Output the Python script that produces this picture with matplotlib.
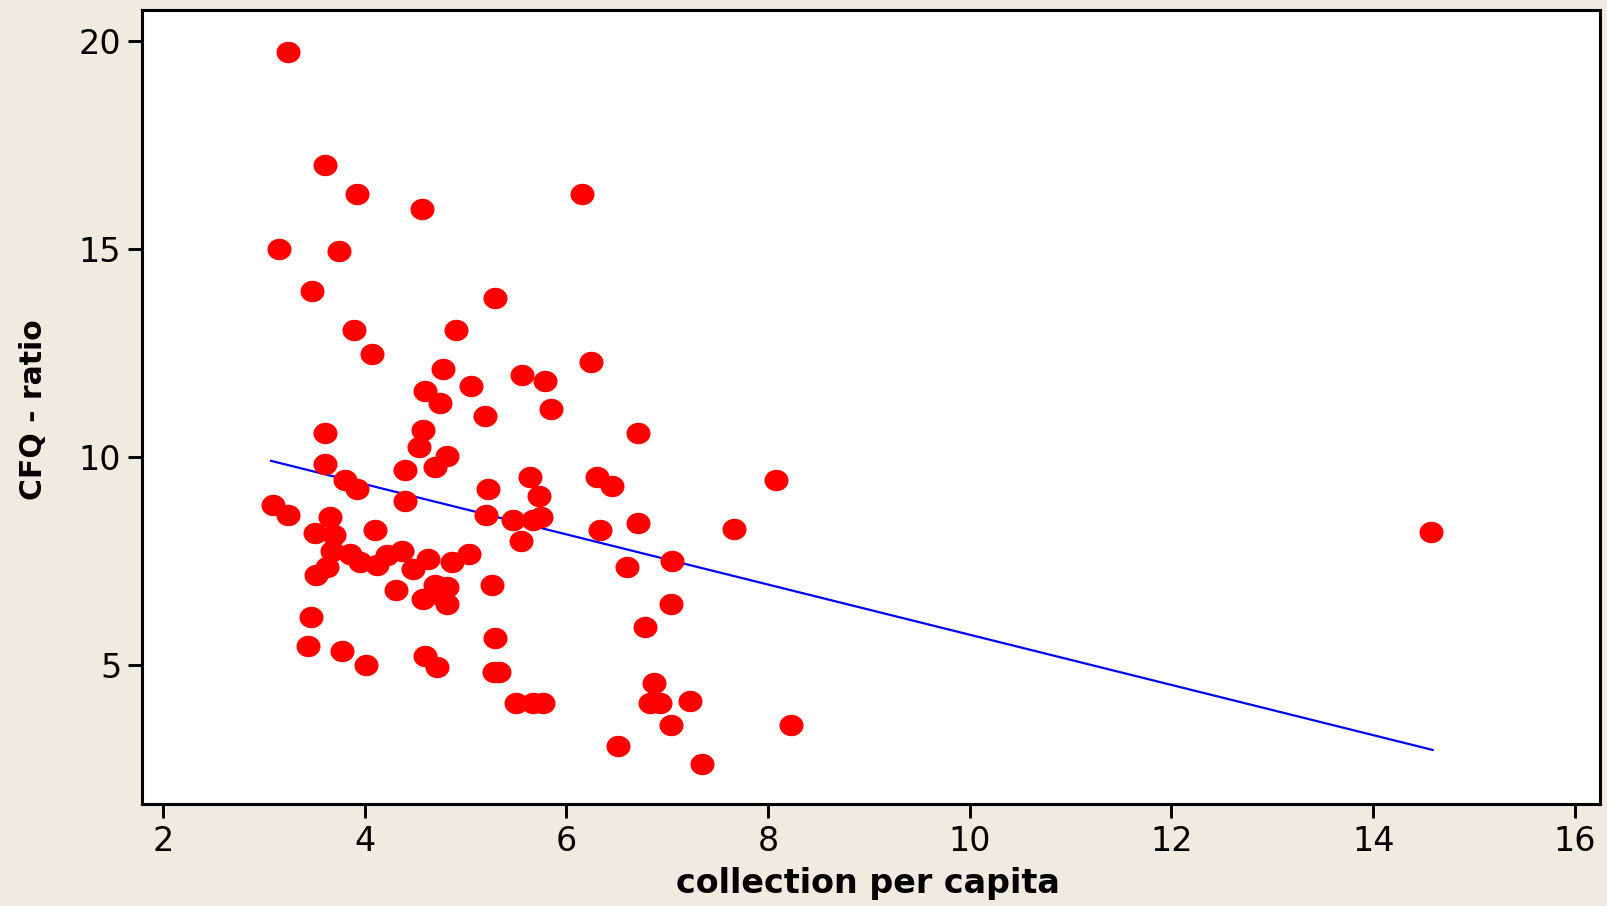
import numpy as np
import matplotlib
matplotlib.use("Agg")
import matplotlib.pyplot as plt
from matplotlib.path import Path

# ---- data ----
collection_per_capita = [
    3.24, 3.60, 3.92, 4.57, 6.15, 3.15, 3.74, 3.48, 5.29, 3.89,
    4.90, 4.07, 6.24, 4.78, 5.56, 5.79, 5.05, 4.60, 4.75, 5.85,
    5.19, 3.60, 4.575, 6.71, 4.54, 4.81, 3.60, 4.40, 4.70, 5.64,
    6.30, 8.08, 3.80, 3.92, 6.45, 5.225, 5.73, 3.09, 3.235, 4.40,
    3.656, 5.20, 5.47, 5.75, 5.67, 6.71, 3.507, 3.69, 4.10, 6.33,
    7.66, 14.57, 5.55, 3.67, 3.85, 4.37, 4.22, 3.95, 4.12, 4.63,
    5.03, 4.86, 7.05, 4.48, 3.62, 3.52, 6.60, 5.26, 4.70, 4.81,
    4.31, 4.58, 4.73, 4.81, 7.04, 3.47, 6.78, 5.29, 3.44, 3.77,
    4.60, 4.01, 4.72, 5.28, 5.33, 6.87, 5.50, 5.67, 5.77, 6.83,
    6.93, 7.22, 7.04, 8.23, 6.51, 7.34,
]
cfq_ratio = [
    19.73, 17.01, 16.32, 15.95, 16.32, 14.99, 14.94, 13.98, 13.81, 13.04,
    13.04, 12.47, 12.28, 12.10, 11.96, 11.83, 11.71, 11.59, 11.29, 11.14,
    10.97, 10.56, 10.63, 10.57, 10.23, 10.01, 9.82, 9.67, 9.75, 9.50,
    9.50, 9.44, 9.43, 9.23, 9.29, 9.23, 9.05, 8.85, 8.61, 8.93,
    8.55, 8.61, 8.49, 8.55, 8.49, 8.41, 8.17, 8.11, 8.23, 8.23,
    8.26, 8.18, 7.97, 7.73, 7.67, 7.73, 7.63, 7.47, 7.39, 7.55,
    7.67, 7.47, 7.49, 7.29, 7.35, 7.15, 7.35, 6.91, 6.91, 6.87,
    6.79, 6.59, 6.71, 6.47, 6.45, 6.15, 5.90, 5.63, 5.44, 5.32,
    5.20, 5.00, 4.95, 4.83, 4.83, 4.56, 4.07, 4.07, 4.07, 4.07,
    4.07, 4.12, 3.56, 3.56, 3.05, 2.61,
]
fit_x = [3.07, 14.59]
fit_y = [9.90, 2.95]

x_ticks = [2, 4, 6, 8, 10, 12, 14, 16]
y_ticks = [5, 10, 15, 20]
x_label = "collection per capita"
y_label = "CFQ - ratio"

# ---- style ----
bg = "#EFEBE1"
plt.rcParams['font.family'] = ['DejaVu Sans']

fig = plt.figure(figsize=(16.08, 9.06), dpi=100, facecolor=bg)
ax = fig.add_axes([142 / 1608, 1 - 804 / 906, (1600 - 142) / 1608, (804 - 10) / 906])
ax.set_facecolor("white")

# ellipse marker (wider than tall)
t = np.linspace(0, 2 * np.pi, 64)
ell = Path(np.column_stack([1.12 * np.cos(t), np.sin(t)]), closed=True)

ax.plot(fit_x, fit_y, color="#0000FF", lw=1.6, zorder=2)
ax.plot(collection_per_capita, cfq_ratio, linestyle="none", marker=ell,
        markersize=17.3, markerfacecolor="#FF0000", markeredgecolor="none", zorder=3)

ax.set_xlim(1.79, 16.25)
ax.set_ylim(1.65, 20.74)
ax.set_xticks(x_ticks)
ax.set_yticks(y_ticks)
ax.tick_params(axis="both", direction="out", length=10, width=2.1,
               labelsize=24, pad=5, color="black")
for s in ax.spines.values():
    s.set_linewidth(2.2)
    s.set_color("black")

fig.text(868 / 1608, 1 - 884 / 906, x_label, ha="center", va="center",
         fontsize=24, fontweight="bold")
fig.text(34 / 1608, 1 - 410 / 906, y_label, ha="center", va="center",
         rotation=90, fontsize=21.5, fontweight="bold")

fig.savefig("out.png", dpi=100, facecolor=bg)
